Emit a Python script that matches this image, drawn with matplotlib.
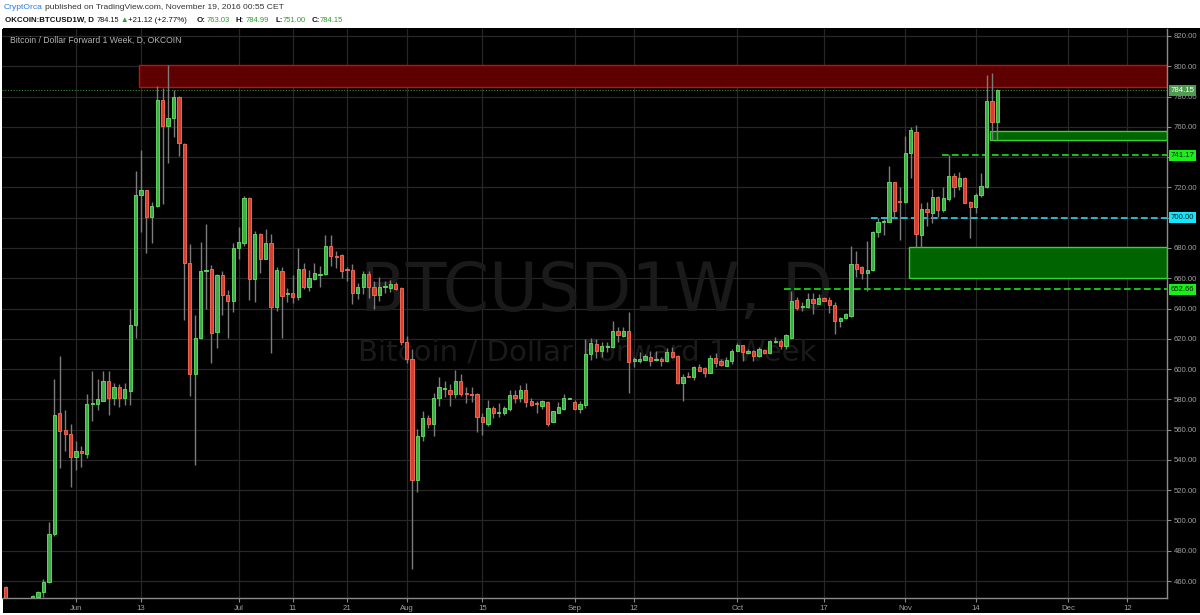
import matplotlib
matplotlib.use("Agg")
import matplotlib.pyplot as plt
import matplotlib.patches as mpatches
import matplotlib.transforms as mtransforms
import numpy as np
import pandas as pd

plt.rcParams['font.family'] = ['Liberation Sans', 'DejaVu Sans']

# ---------------- data ----------------
start_date = "2016-05-19"
opens = [456, 445, 446, 444, 445, 449, 449.5, 452.5, 459.3, 491, 570.8, 560, 557,
         541.9, 545.8, 544.2, 576.9, 577, 579, 592.4, 581, 588.3, 581, 585.6, 628.8, 714.8, 718,
         700.5, 708, 777.4, 760.8, 765.8, 780, 748.9, 670.2, 596.5, 620.8, 664.7, 666.3, 624.3,
         661.8, 648.8, 645, 680, 683.4, 713, 659.3, 689, 672.7, 683, 641.3, 664.7, 649.7, 650.2,
         647.7, 666.3, 654.5, 659.7, 662, 662.8, 681.6, 674.8, 675.4, 665.6, 665.6, 650.4, 654.5,
         663, 654.5, 648.8, 654.5, 653.8, 656, 653.8, 617.9, 606.7, 526.9, 556, 567.4, 564, 581,
         586.7, 586, 583.3, 592.4, 583.8, 583.5, 583.3, 568.5, 564, 574.2, 571.2, 570.8, 573.8,
         582.8, 580.6, 586, 579.2, 577, 575.3, 578.3, 565, 570.8, 573.7, 580.3, 578, 573.7, 576.5,
         610, 616.6, 611.7, 614.6, 614.8, 625.3, 622, 625.3, 605.5, 605.1, 606.2, 608.2, 606.2,
         606.7, 605.1, 611, 608.8, 590.6, 595.6, 594.5, 601.6, 600.7, 597.6, 607.1, 605.1, 602.2,
         605.5, 611.7, 615.6, 610.4, 611.7, 608.8, 612.8, 610.4, 618.1, 618.3, 615.4, 620.5, 645.6,
         641, 640.8, 646.1, 643, 647, 645.6, 642.5, 631.5, 633.7, 635.3, 669.4, 667.2, 663.2, 665.4,
         690.5, 697.1, 697.3, 723.3, 710.6, 710.5, 742.9, 756.8, 688.5, 705.5, 703.3, 713.4, 705,
         712.1, 727.7, 720.9, 725.9, 710.5, 706.8, 714.9, 720, 777.2, 763.03]
highs = [457, 448, 447.5, 447, 448, 451, 453.6, 461.6, 499, 593.5, 608.8, 573, 564,
         552.6, 549, 583.8, 599, 593.5, 599, 599, 590.6, 590, 591, 639.7, 730.5, 744.4, 718.5,
         710.3, 787, 785.8, 801, 784.5, 780.5, 749.5, 682.3, 635.6, 684, 696, 668.6, 663,
         664.7, 652, 683.4, 693.6, 714, 713.5, 691.4, 690, 692.5, 689, 667.5, 667.5, 653.8, 661.8,
         680, 670.2, 665.6, 670.2, 668, 688.4, 688.4, 677.7, 676, 667.5, 669.7, 656.6, 664.7,
         664.7, 658.4, 660.7, 658.4, 658.8, 657.2, 654, 622, 613.3, 560.6, 572, 569.7, 584.4,
         594.7, 592, 590, 599.7, 596.5, 588.3, 587.9, 584.4, 570.8, 579.9, 575.3, 577.6, 575.3,
         586, 586.5, 589.7, 590.6, 580.6, 578.8, 579.9, 579.2, 572.4, 578.3, 583.8, 581, 579.9,
         578.8, 620, 620.2, 619.8, 617.6, 617.6, 632, 627.6, 627.6, 637.4, 608.2, 611, 610,
         611.7, 612, 608.2, 613.9, 614.4, 609.4, 596.7, 597.8, 602.2, 603.3, 601.6, 609.4, 610.4,
         606.4, 607.7, 613.2, 617, 616.1, 613, 612.6, 614.4, 613.2, 619.2, 621.4, 619.8, 623.2,
         651.3, 647.4, 644, 650, 650, 649.6, 647.8, 647.4, 644.1, 634.6, 637.2, 681.5, 677.8,
         668.3, 684.4, 691.4, 700, 699, 734.1, 723.7, 720, 753.9, 760.1, 761.2, 709.9, 710.5,
         718.7, 714.3, 720, 741.4, 729.2, 730.3, 727, 711.2, 716.5, 729.2, 794.2, 795.3, 784.99]
lows = [440, 441, 440, 441, 443, 447, 449, 449.5, 459, 490, 534.4, 545.8, 521.9,
        533.3, 535.5, 541.2, 566, 573, 578.8, 569.6, 576.5, 574.7, 576.5, 576.5, 620.6, 690.2, 676.6,
        683.4, 707, 708.9, 736, 753.4, 740.7, 632.2, 582.2, 536.7, 619.7, 640, 603.7, 614,
        635.6, 620.2, 637.4, 672.5, 681, 645.9, 644.5, 663.4, 672.5, 610.6, 638.4, 620.2, 644.5, 643.6,
        645.9, 652.7, 651.6, 659, 654.5, 661.8, 668, 667, 660, 658.4, 643, 646.4, 649.3,
        647, 640, 645, 650.4, 651, 652, 615.6, 603.8, 467.7, 518.5, 552.6, 561, 556,
        575.3, 581.5, 575.3, 581, 582.2, 577.6, 578.5, 558.3, 556.5, 562.4, 567.4, 568.5, 569.7,
        572.2, 577.8, 578.5, 574.7, 575.3, 571.2, 573.6, 562.4, 565, 570.8, 573, 580, 573,
        571.2, 574.2, 606.3, 607.3, 608.2, 611, 613.9, 617.6, 621.4, 584, 601.6, 603.8, 606,
        602.2, 605.5, 602.2, 604.4, 607.3, 590.2, 579.1, 594.5, 592.7, 598.5, 595, 597.2, 601.1,
        602, 601.8, 603.3, 611.7, 605.1, 610, 605.1, 607.7, 609.9, 609.9, 617, 613.2, 613.2,
        619.8, 639, 638.6, 640.3, 636.4, 642.7, 644.7, 636.8, 623.2, 627.9, 633, 634.6, 660.6,
        659.5, 651.3, 664.5, 687.4, 688.8, 697, 700.6, 685.2, 710, 725.9, 680.8, 680.8, 694.4,
        696.6, 700.2, 703.9, 711.2, 713.8, 718.2, 709.9, 686.7, 702.8, 713.8, 719.3, 751.3, 751.00]
closes = [446, 446, 444, 445, 447.5, 450, 452.5, 459.3, 491, 569.6, 559.4, 557, 541.9,
          545.8, 544.4, 576.9, 577.5, 580, 592, 581, 588.3, 581, 586.7, 628.8, 714.8, 718, 700.5,
          708, 777.4, 760.8, 765.8, 780, 749.4, 669.8, 596.5, 620.8, 664.7, 665.6, 623.8, 661.8,
          648.6, 644.7, 680, 683.9, 713, 659.3, 689, 672.7, 683, 641.3, 665.6, 648, 650.5, 647.7,
          666.3, 654.5, 660, 663.4, 663, 681.6, 674.8, 674, 664.7, 665.2, 650.4, 654.5, 663,
          654.5, 648.8, 654.5, 654.8, 656, 653.1, 617.9, 606.7, 526.9, 556, 567.4, 564, 581,
          587.9, 587, 583.3, 592.4, 583.8, 583.3, 582.6, 568.5, 565.1, 574.2, 570.8, 571.5, 574.2,
          582.8, 581, 586, 578.3, 576, 576.8, 578.8, 564, 572, 574.7, 580.6, 580.5, 573.7,
          577, 610, 617, 612.1, 615, 615.4, 625.3, 622.7, 625.3, 604.4, 606.6, 606.6, 608.8,
          605.1, 606.3, 605.1, 611, 608.2, 590.6, 595, 595, 601.6, 598.9, 597.2, 607.3, 604,
          602.7, 606, 612.1, 615.6, 611, 612.1, 608.6, 613, 610.4, 618.3, 618.3, 615.4, 622.5,
          645.2, 640.3, 641.2, 646.1, 643.4, 647, 645.2, 642.5, 631.5, 633.7, 636.4, 669.4, 666.1,
          663.2, 665.4, 690.5, 697.1, 697.6, 723.3, 704.6, 710.3, 742.9, 757.9, 688.9, 705.5, 703.9,
          713.4, 705, 712.7, 727.7, 720.4, 725.9, 709.9, 706.8, 714.9, 720.9, 777.2, 763.03, 784.15]

price_ticks = [460, 480, 500, 520, 540, 560, 580, 600, 620, 640, 660, 680, 700, 720, 740, 760, 780, 800, 820]
hidden_price_labels = [740, 700]   # covered by the level labels in the reference
date_ticks = ["2016-06-01", "2016-06-13", "2016-07-01", "2016-07-11", "2016-07-21", "2016-08-01",
              "2016-08-15", "2016-09-01", "2016-09-12", "2016-10-01", "2016-10-17", "2016-11-01",
              "2016-11-14", "2016-12-01", "2016-12-12"]
date_tick_labels = ["Jun", "13", "Jul", "11", "21", "Aug", "15", "Sep", "12", "Oct", "17", "Nov", "14", "Dec", "12"]

resistance_zone = (786.3, 800.5, "2016-06-13")
support_zone_upper = (751.3, 757.2, "2016-11-17")
support_zone_lower = (660.0, 680.8, "2016-11-02")
level_lines = [(741.17, "2016-11-08", "#1ee01e", "741.17", "#18f018", "#1a1a1a"),
               (700.00, "2016-10-26", "#2ad4f0", "700.00", "#10e8ff", "#1a1a1a"),
               (652.66, "2016-10-10", "#1ee01e", "652.66", "#18f018", "#1a1a1a")]
last_price = 784.15

# ---------------- geometry ----------------
W, H = 1200, 615
fig = plt.figure(figsize=(W / 100, H / 100), dpi=100)
fig.patch.set_facecolor("white")

def fx(px):
    return px / W

def fy(py):
    return 1 - py / H

# black panel (background axes)
bg = fig.add_axes([fx(3), fy(613), fx(1197), (613 - 28) / H], zorder=-5)
bg.set_facecolor("black")
bg.set_xticks([]); bg.set_yticks([])
for sp in bg.spines.values():
    sp.set_visible(False)

ax = fig.add_axes([fx(2), fy(598), fx(1167) - fx(2), fy(29) - fy(598)], zorder=1)
ax.set_facecolor("black")

base = pd.Timestamp("2016-06-01")
dates = pd.date_range(start_date, periods=len(opens), freq="D")
xs = np.array([(d - base).days for d in dates], dtype=float)

def dx(s):
    return (pd.Timestamp(s) - base).days

o = np.array(opens); h = np.array(highs); l = np.array(lows); c = np.array(closes)
up = c >= o

XMIN, XMAX = -13.65, 201.3
ax.set_xlim(XMIN, XMAX)
ax.set_ylim(448.8, 824.6)

# grid
for p in price_ticks:
    ax.axhline(p, color="#272727", lw=0.9, zorder=0.5)
for s in date_ticks:
    ax.axvline(dx(s), color="#272727", lw=0.9, zorder=0.5)

# watermark
ax.text(0.51, 0.538, "BTCUSD1W, D", transform=ax.transAxes, ha="center", va="center",
        fontsize=48, color="#1a1a1a", family=["DejaVu Sans"], zorder=0.6)
ax.text(0.502, 0.432, "Bitcoin / Dollar Forward 1 Week", transform=ax.transAxes, ha="center",
        va="center", fontsize=21, color="#1a1a1a", family=["DejaVu Sans"], zorder=0.6)

# zones
lo, hi, s = resistance_zone
ax.add_patch(mpatches.Rectangle((dx(s) - 0.3, lo), XMAX - dx(s) + 0.3, hi - lo, facecolor="#5e0000",
                                edgecolor="#c01010", lw=1, zorder=1))
for lo, hi, s in (support_zone_upper, support_zone_lower):
    ax.add_patch(mpatches.Rectangle((dx(s) - 0.3, lo), XMAX - dx(s) + 0.3, hi - lo, facecolor="#006400",
                                    edgecolor="#33d633", lw=1, zorder=1))

# last price dotted line
ax.axhline(last_price, color="#3c8a3c", lw=0.8, ls=(0, (1, 1.5)), zorder=1.2)

# level lines
for val, s, col, txt, bg_c, fg in level_lines:
    ax.plot([dx(s) - 0.3, XMAX], [val, val], color=col, lw=1.2, ls=(0, (4, 2)), zorder=1.5)

# candles
ax.vlines(xs, l, h, color="#7c7c7c", lw=1, zorder=2)
body_lo = np.minimum(o, c)
body_h = np.maximum(np.abs(c - o), 0.6)
ax.bar(xs[up], body_h[up], bottom=body_lo[up], width=0.6, color="#3faa47",
       edgecolor="#5cd65c", lw=0.7, zorder=3)
ax.bar(xs[~up], body_h[~up], bottom=body_lo[~up], width=0.6, color="#d2402f",
       edgecolor="#f06552", lw=0.7, zorder=3)

# axes styling
for sp in ("top", "left"):
    ax.spines[sp].set_visible(False)
for sp in ("right", "bottom"):
    ax.spines[sp].set_color("#8a8a8a")
    ax.spines[sp].set_linewidth(1)
ax.yaxis.tick_right()
ax.set_yticks(price_ticks)
ax.set_yticklabels(["" if p in hidden_price_labels else "%.2f" % p for p in price_ticks])
ax.set_xticks([dx(s) for s in date_ticks])
ax.set_xticklabels(date_tick_labels)
ax.tick_params(axis="y", colors="#8a8a8a", labelcolor="#a0a0a0", labelsize=5.6, length=3, pad=2)
ax.tick_params(axis="x", colors="#8a8a8a", labelcolor="#a0a0a0", labelsize=5.6, length=3, pad=2)
ax.grid(False)

# right price labels
trans = mtransforms.blended_transform_factory(ax.transAxes, ax.transData)
ax.text(1.003, last_price, "784.15", transform=trans, va="center", ha="left", fontsize=5.6,
        color="white", bbox=dict(boxstyle="square,pad=0.25", fc="#4e9d4e", ec="none"),
        zorder=10, clip_on=False)
for val, s, col, txt, bg_c, fg in level_lines:
    ax.text(1.003, val, txt, transform=trans, va="center", ha="left", fontsize=5.6,
            color=fg, bbox=dict(boxstyle="square,pad=0.25", fc=bg_c, ec="none"),
            zorder=10, clip_on=False)

# inside title
fig.text(fx(10), fy(40), "Bitcoin / Dollar Forward 1 Week, D, OKCOIN", fontsize=6.2,
         color="#b4b4b4", va="center", ha="left", zorder=5)

# header
fig.text(fx(4), fy(7.5), "CryptOrca", fontsize=6.1, color="#2b7bd6", va="center", ha="left")
fig.text(fx(45), fy(7.5), "published on TradingView.com, November 19, 2016 00:55 CET",
         fontsize=6.1, color="#333333", va="center", ha="left")
y2 = fy(20)
segs = [(5, "OKCOIN:BTCUSD1W, D", "#111111", "bold", 5.7),
        (97, "784.15", "#111111", "normal", 5.3),
        (120, "\u25B2", "#2ca02c", "normal", 5.5),
        (128, "+21.12 (+2.77%)", "#111111", "normal", 5.7),
        (197, "O:", "#111111", "bold", 5.7),
        (207, "763.03", "#2ca02c", "normal", 5.5),
        (236, "H:", "#111111", "bold", 5.7),
        (246, "784.99", "#2ca02c", "normal", 5.5),
        (275, "L:", "#111111", "bold", 5.7),
        (283, "751.00", "#2ca02c", "normal", 5.5),
        (312, "C:", "#111111", "bold", 5.7),
        (320, "784.15", "#2ca02c", "normal", 5.5)]
for x, t, col, wt, fs in segs:
    fig.text(fx(x), y2, t, fontsize=fs, color=col, fontweight=wt, va="center", ha="left")

fig.savefig("out.png", dpi=100, facecolor=fig.get_facecolor())
